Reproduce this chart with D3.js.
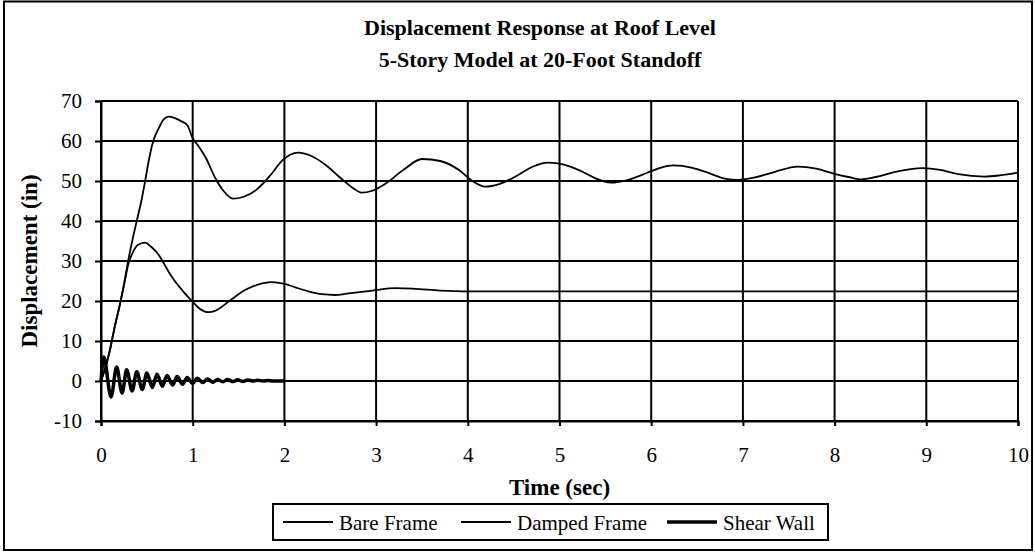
<!DOCTYPE html>
<html>
<head>
<meta charset="utf-8">
<script src="https://cdn.jsdelivr.net/npm/d3@7"></script>
<style>
body{margin:0;background:#fff;}
svg{display:block;font-family:"Liberation Serif","Times New Roman",serif;}
</style>
</head>
<body>
<svg id="svg" width="1035" height="552"></svg>
<script>
var titleLines = ["Displacement Response at Roof Level", "5-Story Model at 20-Foot Standoff"];
var xTicks = [0,1,2,3,4,5,6,7,8,9,10];
var yTicks = [-10,0,10,20,30,40,50,60,70];
var seriesNames = ["Bare Frame", "Damped Frame", "Shear Wall"];

// [time (sec), displacement (in)]
var bareFrame = [[0,0],[0.05,3.5],[0.1,8],[0.15,13.6],[0.2,18.5],[0.25,24],[0.3,30.5],[0.35,36],[0.4,41],
	[0.44,45],[0.48,49.8],[0.52,55],[0.57,60],[0.63,63.2],[0.68,65.3],[0.735,66.1],[0.8,65.8],[0.87,65],
	[0.94,64],[1.0,60.7],[1.07,58.5],[1.15,55.5],[1.24,51],[1.33,47.7],[1.44,45.6],[1.55,46],[1.7,47.9],
	[1.85,51.5],[1.98,55.2],[2.15,57.1],[2.3,56.2],[2.45,54],[2.6,51],[2.75,48.2],[2.84,47.1],[2.95,47.5],
	[3.1,49.3],[3.3,52.8],[3.5,55.5],[3.7,55],[3.9,52.8],[4.05,50],[4.19,48.6],[4.35,49.3],[4.55,51.5],
	[4.7,53.5],[4.88,54.6],[5.05,54.1],[5.25,52.3],[5.4,50.6],[5.56,49.6],[5.75,50.3],[5.95,52],[6.1,53.3],
	[6.24,53.9],[6.45,53.3],[6.65,51.8],[6.8,50.6],[6.95,50.3],[7.15,51],[7.35,52.3],[7.6,53.6],[7.8,53.1],
	[8.0,51.8],[8.15,51],[8.29,50.4],[8.45,51],[8.65,52.2],[8.96,53.2],[9.15,52.8],[9.35,51.7],[9.63,51.1],
	[9.8,51.4],[10,52.1]];
var dampedFrame = [[0,0],[0.05,3.5],[0.1,8],[0.15,13.6],[0.2,18.5],[0.25,24],[0.3,29.4],[0.35,32.3],
	[0.4,34],[0.48,34.6],[0.55,33.5],[0.63,31.5],[0.7,28.8],[0.77,26.1],[0.9,22.3],[1.0,19.8],[1.08,18],
	[1.17,17.2],[1.25,17.6],[1.39,19.8],[1.57,22.75],[1.7,24],[1.86,24.7],[2.0,24.3],[2.12,23.4],[2.25,22.5],
	[2.41,21.7],[2.55,21.5],[2.7,21.9],[2.96,22.6],[3.21,23.2],[3.4,23.1],[3.7,22.6],[4.0,22.4],[5,22.4],
	[6,22.4],[7,22.4],[8,22.4],[9,22.4],[10,22.4]];
var shearWall = [[0,0],[0.03,6],[0.11,-4],[0.17,3.5],[0.23,-3],[0.28,2.8],[0.34,-2.5],[0.39,2.3],[0.45,-2.1],
	[0.5,2.0],[0.56,-1.6],[0.61,1.7],[0.67,-1.3],[0.72,1.4],[0.78,-1.0],[0.83,1.1],[0.89,-0.8],[0.94,0.9],
	[1.0,-0.6],[1.05,0.7],[1.11,-0.4],[1.16,0.5],[1.22,-0.3],[1.27,0.4],[1.33,-0.2],[1.38,0.35],[1.44,-0.15],
	[1.49,0.3],[1.55,-0.1],[1.6,0.25],[1.66,0],[1.71,0.2],[1.77,0],[1.82,0.1],[1.88,0],[2.0,0]];

var W = 1035, H = 552;
var plot = {left:101, right:1018, top:101, bottom:421};
var svg = d3.select("#svg");

// outer chart border
svg.append("rect").attr("x",4).attr("y",1.5).attr("width",1028).attr("height",548.5)
	.attr("fill","#fff").attr("stroke","#000").attr("stroke-width",2);

var x = d3.scaleLinear().domain([0,10]).range([plot.left, plot.right]);
var y = d3.scaleLinear().domain([-10,70]).range([plot.bottom, plot.top]);

// title
svg.selectAll(".title").data(titleLines).enter().append("text")
	.attr("x", 540).attr("y", function(d,i){return 35 + i*32;})
	.attr("text-anchor","middle").attr("font-size",22).attr("font-weight","bold")
	.text(function(d){return d;});

// grid
var g = svg.append("g");
g.selectAll(".hg").data(yTicks).enter().append("line")
	.attr("x1",plot.left).attr("x2",plot.right)
	.attr("y1",function(d){return y(d);}).attr("y2",function(d){return y(d);})
	.attr("stroke","#000").attr("stroke-width",2);
g.selectAll(".vg").data(xTicks).enter().append("line")
	.attr("y1",plot.top).attr("y2",plot.bottom)
	.attr("x1",function(d){return x(d);}).attr("x2",function(d){return x(d);})
	.attr("stroke","#000").attr("stroke-width",2);

// axes (plain hyphen for negatives, like the original)
var fmt = function(d){return String(d);};
var xAxis = svg.append("g").attr("transform","translate(0,"+plot.bottom+")")
	.call(d3.axisBottom(x).tickValues(xTicks).tickSize(5).tickFormat(fmt));
var yAxis = svg.append("g").attr("transform","translate("+plot.left+",0)")
	.call(d3.axisLeft(y).tickValues(yTicks).tickSize(6).tickPadding(13).tickFormat(fmt));
[xAxis, yAxis].forEach(function(a){
	a.select(".domain").attr("stroke-width",2);
	a.selectAll(".tick line").attr("stroke-width",2);
	a.selectAll("text").attr("font-family","Liberation Serif").attr("font-size",21).attr("fill","#000");
});
xAxis.selectAll("text").attr("y",41).attr("dy",0);

// axis titles
svg.append("text").attr("x",(plot.left+plot.right)/2).attr("y",495)
	.attr("text-anchor","middle").attr("font-size",23).attr("font-weight","bold").text("Time (sec)");
svg.append("text").attr("transform","translate(37,"+((plot.top+plot.bottom)/2)+") rotate(-90)")
	.attr("text-anchor","middle").attr("font-size",23).attr("font-weight","bold").text("Displacement (in)");

// series
var line = d3.line().x(function(d){return x(d[0]);}).y(function(d){return y(d[1]);}).curve(d3.curveMonotoneX);
var series = [
	{name:seriesNames[0], data:bareFrame, w:1.8},
	{name:seriesNames[1], data:dampedFrame, w:1.8},
	{name:seriesNames[2], data:shearWall, w:3.5}
];
svg.selectAll(".series").data(series).enter().append("path")
	.attr("d",function(d){return line(d.data);})
	.attr("fill","none").attr("stroke","#000")
	.attr("stroke-width",function(d){return d.w;});

// legend
var lg = svg.append("g");
lg.append("rect").attr("x",273).attr("y",504).attr("width",555).attr("height",36)
	.attr("fill","#fff").attr("stroke","#000").attr("stroke-width",2);
var legX = [283, 461, 667];
series.forEach(function(s,i){
	lg.append("line").attr("x1",legX[i]).attr("x2",legX[i]+50).attr("y1",522).attr("y2",522)
		.attr("stroke","#000").attr("stroke-width",s.w);
	lg.append("text").attr("x",legX[i]+56).attr("y",530).attr("font-size",21).text(s.name);
});
</script>
</body>
</html>
